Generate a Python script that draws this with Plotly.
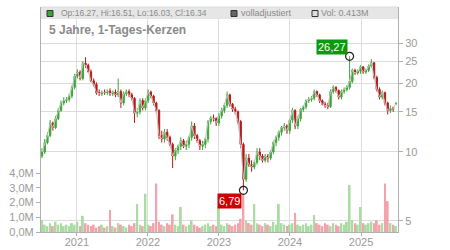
import math
import pandas as pd
import plotly.graph_objects as go

# ---- data (2-week candles) ----
start_date = "2020-07-05"
n_points = 131

opens = [9.6, 10.0, 11.0, 11.8, 13.4, 12.8, 14.0, 15.2, 16.4, 16.8,
         17.0, 17.6, 19.2, 21.5, 22.4, 21.0, 24.5, 24.0, 22.5, 20.5,
         19.8, 18.2, 18.0, 18.3, 18.2, 18.5, 18.0, 18.3, 17.8, 18.4,
         16.4, 18.0, 18.4, 17.8, 17.2, 14.8, 15.0, 16.8, 15.6, 16.8,
         18.3, 17.6, 16.4, 15.2, 11.8, 11.4, 12.2, 11.6, 10.8, 9.6,
         10.2, 10.6, 11.2, 10.6, 10.8, 11.6, 13.0, 11.8, 11.2, 10.6,
         10.8, 11.4, 13.6, 14.1, 14.0, 13.4, 14.4, 15.2, 16.0, 17.8,
         16.2, 15.4, 15.0, 13.6, 10.8, 7.6, 9.4, 8.8, 8.6, 9.0,
         10.0, 9.6, 9.2, 9.6, 9.4, 10.0, 11.0, 11.6, 12.2, 12.8,
         13.0, 12.4, 13.8, 15.2, 13.0, 14.0, 15.4, 15.8, 16.8, 17.0,
         17.2, 18.4, 17.8, 16.8, 16.2, 16.0, 15.8, 18.4, 19.2, 18.6,
         17.4, 18.4, 18.8, 19.2, 20.4, 22.8, 22.2, 22.6, 23.6, 22.4,
         22.8, 23.8, 24.6, 21.2, 18.8, 17.4, 18.2, 16.4, 15.2, 15.6,
         16.27]

closes = [10.0, 11.0, 11.8, 13.4, 12.8, 14.0, 15.2, 16.4, 16.8, 17.0,
          17.6, 19.2, 21.5, 22.4, 21.0, 24.5, 24.0, 22.5, 20.5, 19.8,
          18.2, 18.0, 18.3, 18.2, 18.5, 18.0, 18.3, 17.8, 18.4, 16.4,
          18.0, 18.4, 17.8, 17.2, 14.8, 15.0, 16.8, 15.6, 16.8, 18.3,
          17.6, 16.4, 15.2, 11.8, 11.4, 12.2, 11.6, 10.8, 9.6, 10.2,
          10.6, 11.2, 10.6, 10.8, 11.6, 13.0, 11.8, 11.2, 10.6, 10.8,
          11.4, 13.6, 14.1, 14.0, 13.4, 14.4, 15.2, 16.0, 17.8, 16.2,
          15.4, 15.0, 13.6, 10.8, 7.6, 9.4, 8.8, 8.6, 9.0, 10.0,
          9.6, 9.2, 9.6, 9.4, 10.0, 11.0, 11.6, 12.2, 12.8, 13.0,
          12.4, 13.8, 15.2, 13.0, 14.0, 15.4, 15.8, 16.8, 17.0, 17.2,
          18.4, 17.8, 16.8, 16.2, 16.0, 15.8, 18.4, 19.2, 18.6, 17.4,
          18.4, 18.8, 19.2, 20.4, 22.8, 22.2, 22.6, 23.6, 22.4, 22.8,
          23.8, 24.6, 21.2, 18.8, 17.4, 18.2, 16.4, 15.2, 15.6, 15.4,
          16.34]

highs = [10.4, 11.4, 12.2, 13.8, 13.6, 14.4, 15.6, 16.8, 17.4, 17.4,
         18.0, 19.6, 22.0, 23.0, 22.8, 25.0, 26.0, 24.4, 23.0, 21.0,
         20.2, 18.8, 18.6, 18.8, 18.8, 19.0, 18.6, 18.8, 21.0, 18.8,
         18.4, 18.8, 18.8, 18.2, 17.4, 15.6, 17.2, 17.2, 17.2, 18.8,
         18.6, 17.8, 16.6, 15.4, 12.4, 12.6, 12.6, 11.8, 11.0, 10.4,
         10.8, 11.6, 11.4, 11.2, 11.8, 13.6, 13.4, 12.0, 11.4, 11.2,
         11.6, 13.8, 14.4, 14.6, 14.2, 14.8, 15.6, 16.4, 18.4, 18.0,
         16.4, 15.8, 15.2, 13.8, 11.0, 9.8, 9.8, 9.2, 9.2, 10.4,
         10.4, 9.8, 9.8, 9.8, 10.2, 11.2, 11.8, 12.4, 13.0, 13.4,
         13.2, 14.0, 15.6, 15.4, 14.4, 15.6, 16.0, 17.0, 17.4, 17.6,
         18.8, 18.6, 18.0, 17.0, 16.6, 16.4, 18.8, 19.6, 19.4, 18.8,
         18.8, 19.2, 19.6, 26.27, 23.2, 23.2, 23.0, 24.0, 23.8, 23.2,
         24.2, 25.6, 24.8, 21.6, 19.2, 18.6, 18.4, 16.6, 16.0, 15.8,
         16.51]

lows = [9.4, 9.8, 10.8, 11.6, 12.4, 12.6, 13.8, 15.0, 16.0, 16.4,
        16.6, 17.2, 18.8, 21.0, 20.6, 20.6, 23.4, 22.2, 20.2, 19.4,
        17.8, 17.6, 17.6, 17.8, 17.8, 17.6, 17.6, 17.4, 17.4, 15.6,
        16.0, 17.6, 17.4, 16.8, 13.4, 14.2, 14.6, 15.2, 15.2, 16.4,
        17.2, 16.0, 14.8, 11.4, 11.0, 11.0, 11.2, 10.6, 8.5, 9.2,
        9.8, 10.2, 10.4, 10.2, 10.4, 11.2, 11.4, 11.0, 10.2, 10.2,
        10.4, 11.0, 13.2, 13.6, 13.0, 13.0, 14.0, 14.8, 15.6, 15.8,
        15.0, 14.6, 13.2, 10.4, 6.79, 7.4, 8.6, 8.2, 8.4, 8.8,
        9.2, 9.0, 9.0, 9.0, 9.2, 9.8, 10.6, 11.2, 11.8, 12.4,
        12.0, 12.0, 13.4, 12.6, 12.6, 13.6, 15.0, 15.4, 16.4, 16.6,
        16.8, 17.4, 16.4, 16.0, 15.6, 15.4, 15.6, 18.0, 18.2, 17.0,
        17.0, 18.0, 18.4, 18.8, 20.0, 21.8, 21.8, 22.0, 22.0, 22.0,
        22.4, 23.4, 20.8, 18.4, 17.0, 17.0, 16.0, 14.6, 14.8, 15.0,
        16.03]

volumes_m = [0.8, 0.5, 0.4, 0.6, 0.4, 0.7, 0.5, 0.6, 0.4, 0.5,
             0.4, 0.6, 0.5, 0.7, 0.4, 1.1, 0.6, 0.5, 0.4, 0.5,
             0.3, 0.4, 0.5, 0.3, 0.4, 1.5, 0.4, 0.3, 0.6, 0.5,
             0.4, 0.3, 0.5, 0.4, 0.6, 1.9, 0.5, 0.4, 2.6, 0.5,
             0.4, 0.6, 3.3, 0.7, 0.5, 0.4, 0.6, 0.5, 1.2, 0.5,
             0.4, 1.7, 0.5, 0.4, 0.5, 0.8, 0.5, 0.4, 0.3, 0.4,
             0.5, 0.6, 0.4, 0.5, 0.4, 1.7, 0.5, 0.4, 0.6, 0.5,
             0.4, 0.5, 0.6, 0.9, 2.6, 0.8, 0.6, 0.5, 1.9, 0.6,
             0.5, 0.4, 0.6, 0.5, 0.4, 0.7, 0.5, 1.9, 0.6, 0.5,
             0.4, 0.5, 0.6, 1.3, 0.5, 0.4, 0.5, 0.6, 0.4, 0.5,
             1.15, 0.6, 0.5, 0.4, 0.6, 0.5, 0.4, 0.6, 0.5, 0.4,
             0.6, 0.5, 0.7, 3.2, 0.8, 0.6, 0.5, 1.7, 0.6, 0.5,
             0.6, 0.7, 0.6, 0.8, 0.5, 0.6, 3.3, 2.1, 0.6, 0.5,
             0.413]

year_ticks = ["2021-01-01", "2022-01-01", "2023-01-01", "2024-01-01", "2025-01-01"]
year_labels = ["2021", "2022", "2023", "2024", "2025"]
price_ticks = [5, 10, 15, 20, 25, 30]
vol_ticks = [0, 1, 2, 3, 4]
vol_labels = ["0,0M", "1,0M", "2,0M", "3,0M", "4,0M"]

header_text = "Op:16.27, Hi:16.51, Lo:16.03, Cl:16.34"
title_text = "5 Jahre, 1-Tages-Kerzen"
hi_label = "26,27"
lo_label = "6,79"

# ---- figure ----
dates = pd.date_range(start_date, periods=n_points, freq="14D")
GREEN = "#3ca635"
RED = "#b81818"
vol_colors = ["#a9dba2" if c >= o else "#f2a3ab" for o, c in zip(opens, closes)]

hi_i = highs.index(max(highs))
lo_i = lows.index(min(lows))

fig = go.Figure()
fig.add_trace(go.Bar(x=dates, y=volumes_m, marker=dict(color=vol_colors, line=dict(width=0)),
                     yaxis="y", hoverinfo="skip"))
fig.add_trace(go.Scatter(x=dates, y=closes, mode="lines", line=dict(color="#c4c4c4", width=1),
                         yaxis="y2", hoverinfo="skip"))
fig.add_trace(go.Candlestick(x=dates, open=opens, high=highs, low=lows, close=closes,
                             increasing=dict(line=dict(color=GREEN, width=1), fillcolor=GREEN),
                             decreasing=dict(line=dict(color=RED, width=1), fillcolor=RED),
                             whiskerwidth=0, yaxis="y2"))
fig.add_trace(go.Scatter(x=[dates[hi_i], dates[lo_i]], y=[highs[hi_i], lows[lo_i]], mode="markers",
                         marker=dict(symbol="circle-open", size=8, color="#222", line=dict(width=1.2)),
                         yaxis="y2", hoverinfo="skip"))

grid = "#dcdcdc"
axis_col = "#b0b0b0"
FONT = "Liberation Sans, Arial"
tick_font = dict(family=FONT, size=11, color="#9a9a9a")

fig.update_layout(
    width=450, height=250,
    margin=dict(l=41, r=52, t=7, b=18, autoexpand=False),
    paper_bgcolor="white", plot_bgcolor="white",
    showlegend=False, bargap=0.3,
    font=dict(family=FONT),
    xaxis=dict(type="date", range=["2020-06-30", "2025-07-10"], tickvals=year_ticks,
               ticktext=year_labels, showgrid=True, gridcolor=grid, gridwidth=1,
               ticks="outside", ticklen=3, tickcolor=axis_col, tickfont=tick_font,
               ticklabelstandoff=-3,
               showline=True, linecolor=axis_col, rangeslider=dict(visible=False),
               zeroline=False, automargin=False),
    yaxis=dict(range=[0, 15.3], tickvals=vol_ticks, ticktext=vol_labels, side="left",
               showgrid=False, zeroline=False, ticks="outside", ticklen=4, tickcolor=axis_col,
               tickfont=tick_font, showline=True, linecolor=axis_col, automargin=False),
    yaxis2=dict(type="log", range=[math.log10(4.46), math.log10(43.2)], overlaying="y", side="right",
                tickvals=price_ticks, ticktext=[str(t) for t in price_ticks],
                showgrid=True, gridcolor=grid, gridwidth=1, zeroline=False,
                ticks="outside", ticklen=4, tickcolor=axis_col, tickfont=tick_font,
                showline=True, linecolor=axis_col, automargin=False),
)

# header bar
fig.add_shape(type="rect", xref="paper", yref="paper", x0=0, x1=1, y0=1 - 12 / 225, y1=1,
              fillcolor="#e6e6e6", line=dict(width=0), layer="above")
fig.add_shape(type="line", xref="paper", yref="paper", x0=0, x1=1, y0=1, y1=1,
              line=dict(color=grid, width=1), layer="above")
sq_y0, sq_y1 = 1 - 9.5 / 225, 1 - 3.5 / 225
for x0_px, fill in [(6, "#3ca635"), (190, "#666666"), (271, "#dddddd")]:
    fig.add_shape(type="rect", xref="paper", yref="paper",
                  x0=x0_px / 357, x1=(x0_px + 6) / 357, y0=sq_y0, y1=sq_y1,
                  fillcolor=fill, line=dict(color="#333", width=1), layer="above")
hdr_items = [(19, header_text, 8.5), (199, "volladjustiert", 9), (279, "Vol: 0.413M", 9)]
for x_px, txt, fs in hdr_items:
    fig.add_annotation(xref="paper", yref="paper", x=x_px / 357, y=1 - 6.5 / 225, text=txt,
                       showarrow=False, xanchor="left", yanchor="middle",
                       font=dict(family=FONT, size=fs, color="#8a8a8a"), borderpad=0)
fig.add_annotation(xref="paper", yref="paper", x=6 / 357, y=1 - 23 / 225, text="<b>" + title_text + "</b>",
                   showarrow=False, xanchor="left", yanchor="middle",
                   font=dict(family=FONT, size=12, color="#8a8a8a"))

# high / low labels
fig.add_annotation(x=dates[hi_i], y=math.log10(highs[hi_i]), xref="x", yref="y2", text=hi_label,
                   showarrow=False, xanchor="right", yanchor="bottom", xshift=-2, yshift=1,
                   bgcolor="#0b9a0b", borderpad=1,
                   font=dict(family=FONT, size=11, color="white"))
fig.add_annotation(x=dates[lo_i], y=math.log10(lows[lo_i]), xref="x", yref="y2", text=lo_label,
                   showarrow=False, xanchor="right", yanchor="top", xshift=-1, yshift=-3,
                   bgcolor="#cc0000", borderpad=1,
                   font=dict(family=FONT, size=11, color="white"))

fig.write_html("out.html")
